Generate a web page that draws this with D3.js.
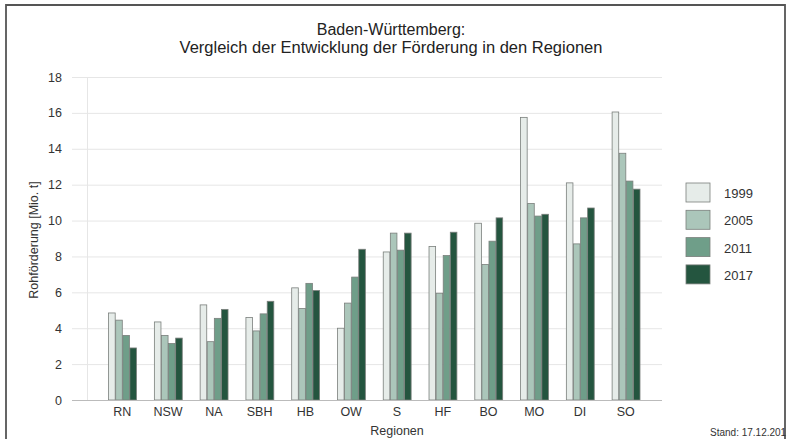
<!DOCTYPE html>
<html>
<head>
<meta charset="utf-8">
<script src="https://cdn.jsdelivr.net/npm/d3@7"></script>
<style>
    body { margin: 0; background: #fff; }
    svg { display: block; font-family: "Liberation Sans", Arial, sans-serif; }
</style>
</head>
<body>
<div id="chart"></div>
<script>
const regions = ['RN', 'NSW', 'NA', 'SBH', 'HB', 'OW', 'S', 'HF', 'BO', 'MO', 'DI', 'SO'];
const years = ['1999', '2005', '2011', '2017'];
const values1999 = [4.85, 4.35, 5.3, 4.6, 6.25, 4.0, 8.25, 8.55, 9.85, 15.75, 12.1, 16.05];
const values2005 = [4.45, 3.6, 3.25, 3.85, 5.1, 5.4, 9.3, 5.95, 7.55, 10.95, 8.7, 13.75];
const values2011 = [3.6, 3.15, 4.55, 4.8, 6.5, 6.85, 8.35, 8.05, 8.85, 10.25, 10.15, 12.2];
const values2017 = [2.9, 3.45, 5.05, 5.5, 6.1, 8.4, 9.3, 9.35, 10.15, 10.35, 10.7, 11.75];
const yTicks = [0, 2, 4, 6, 8, 10, 12, 14, 16, 18];

const series = [values1999, values2005, values2011, values2017];
const colors = ['#e6ece9', '#abc6ba', '#6f9e89', '#24553f'];

const width = 788, height = 439;

const svg = d3.select("#chart")
    .append("svg")
    .attr("width", width)
    .attr("height", height);

// outer frame (top, left, right)
svg.append("path")
    .attr("d", "M6,439 V5 H785 V439")
    .attr("fill", "none")
    .attr("stroke", "#555")
    .attr("stroke-width", 1.8);

const x0 = d3.scaleBand()
    .domain(regions)
    .range([99.4, 648.7])
    .paddingInner(0.38)
    .paddingOuter(0.19);

const x1 = d3.scaleBand()
    .domain(years)
    .range([0, x0.bandwidth()]);

const y = d3.scaleLinear()
    .domain([0, 18])
    .range([400, 77]);

// gridlines
svg.append("g")
    .selectAll("line")
    .data(yTicks.filter(d => d > 0))
    .enter()
    .append("line")
    .attr("x1", 72).attr("x2", 662)
    .attr("y1", d => y(d) + 0.5).attr("y2", d => y(d) + 0.5)
    .attr("stroke", "#e6e6e6");

// vertical axis line
svg.append("line")
    .attr("x1", 87.5).attr("x2", 87.5)
    .attr("y1", y(18)).attr("y2", y(0))
    .attr("stroke", "#e6e6e6");

// y tick labels
svg.append("g")
    .selectAll("text")
    .data(yTicks)
    .enter()
    .append("text")
    .attr("x", 62)
    .attr("y", d => y(d) + 4.5)
    .attr("text-anchor", "end")
    .attr("font-size", "12.5px")
    .attr("fill", "#333")
    .text(d => d);

// bars
const groups = svg.append("g")
    .selectAll("g")
    .data(regions)
    .enter()
    .append("g")
    .attr("transform", d => `translate(${x0(d)},0)`);

groups.selectAll("rect")
    .data((r, i) => years.map((yr, j) => ({ year: yr, value: series[j][i], idx: j })))
    .enter()
    .append("rect")
    .attr("x", d => x1(d.year) + 0.5)
    .attr("y", d => y(d.value))
    .attr("width", x1.bandwidth() - 0.5)
    .attr("height", d => y(0) - y(d.value))
    .attr("fill", d => colors[d.idx])
    .attr("stroke", "#7a7f7c")
    .attr("stroke-width", 0.8);

// baseline
svg.append("line")
    .attr("x1", 72).attr("x2", 662)
    .attr("y1", 400.5).attr("y2", 400.5)
    .attr("stroke", "#bbb");

// x tick labels
svg.append("g")
    .selectAll("text")
    .data(regions)
    .enter()
    .append("text")
    .attr("x", d => x0(d) + x0.bandwidth() / 2)
    .attr("y", 416)
    .attr("text-anchor", "middle")
    .attr("font-size", "12.5px")
    .attr("fill", "#333")
    .text(d => d);

// axis titles
svg.append("text")
    .attr("x", 397).attr("y", 435)
    .attr("text-anchor", "middle")
    .attr("font-size", "12.5px")
    .attr("fill", "#333")
    .text("Regionen");

svg.append("text")
    .attr("transform", "translate(38,240) rotate(-90)")
    .attr("text-anchor", "middle")
    .attr("font-size", "12.5px")
    .attr("fill", "#333")
    .text("Rohförderung [Mio. t]");

// title
svg.append("text")
    .attr("x", 391).attr("y", 34.5)
    .attr("text-anchor", "middle")
    .attr("font-size", "16px")
    .attr("fill", "#222")
    .text("Baden-Württemberg:");

svg.append("text")
    .attr("x", 391).attr("y", 53)
    .attr("text-anchor", "middle")
    .attr("font-size", "16.5px")
    .attr("fill", "#222")
    .text("Vergleich der Entwicklung der Förderung in den Regionen");

// legend
const legend = svg.append("g")
    .selectAll("g")
    .data(years)
    .enter()
    .append("g")
    .attr("transform", (d, i) => `translate(686,${183 + i * 27.3})`);

legend.append("rect")
    .attr("width", 24).attr("height", 19)
    .attr("fill", (d, i) => colors[i])
    .attr("stroke", "#7a7f7c")
    .attr("stroke-width", 0.8);

legend.append("text")
    .attr("x", 38).attr("y", 15)
    .attr("font-size", "13px")
    .attr("fill", "#333")
    .text(d => d);

// footnote
svg.append("text")
    .attr("x", 710).attr("y", 436)
    .attr("font-size", "10px")
    .attr("fill", "#333")
    .text("Stand: 17.12.201");
</script>
</body>
</html>
